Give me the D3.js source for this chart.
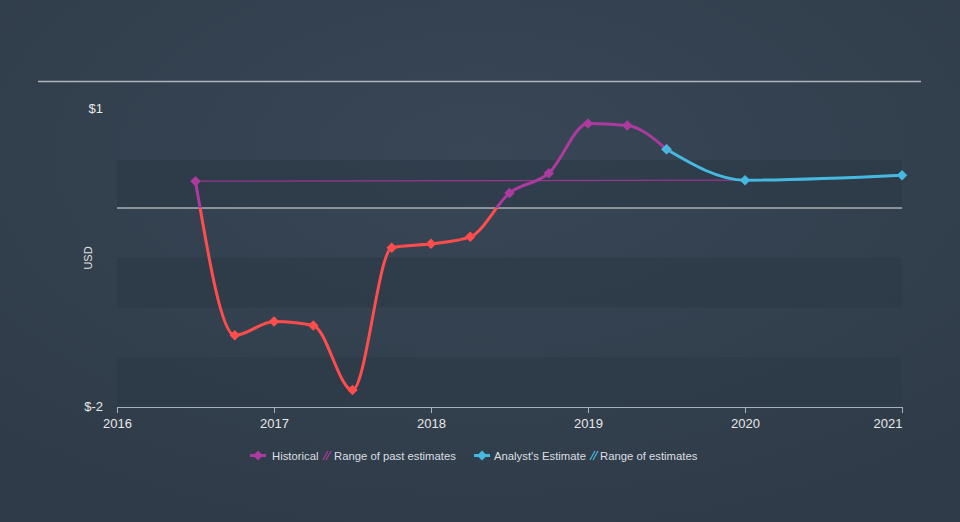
<!DOCTYPE html>
<html><head><meta charset="utf-8">
<script src="https://cdn.jsdelivr.net/npm/d3@7"></script>
<style>
html,body{margin:0;padding:0;background:#354250;}
svg{display:block;font-family:"Liberation Sans",Arial,sans-serif;}
</style></head>
<body>
<svg id="chart" width="960" height="522"></svg>
<script>
// ---- data ----
const histDates = [2016.5, 2016.75, 2017.0, 2017.25, 2017.5, 2017.75, 2018.0, 2018.25, 2018.5, 2018.75, 2019.0, 2019.25, 2019.5];
const histValues = [0.27, -1.28, -1.14, -1.18, -1.83, -0.40, -0.36, -0.29, 0.15, 0.35, 0.85, 0.83, 0.59];
const estDates = [2019.5, 2020.0, 2021.0];
const estValues = [0.59, 0.28, 0.33];
const pastRangeDates = [2016.5, 2020.0];
const pastRangeValues = [0.27, 0.28];
const xTicks = [2016, 2017, 2018, 2019, 2020, 2021];
const yTickValues = [1, -2];
const yTickLabels = ["$1", "$-2"];
const bandRanges = [[0.48, 0], [-0.5, -1], [-1.5, -2]];

const svg = d3.select("#chart");
const W = 960, H = 522;
const M = {left:117, right:902, top:108.5, bottom:407};

const x = d3.scaleLinear().domain([2016, 2021]).range([M.left, M.right]);
const y = d3.scaleLinear().domain([-2, 1]).range([M.bottom, M.top]);

// background gradient
const defs = svg.append("defs");
const bg = defs.append("radialGradient").attr("id","bg").attr("cx","50%").attr("cy","30%").attr("r","75%");
bg.append("stop").attr("offset","0%").attr("stop-color","#384656");
bg.append("stop").attr("offset","100%").attr("stop-color","#2f3b48");
svg.append("rect").attr("width",W).attr("height",H).attr("fill","url(#bg)");

// top rule
svg.append("line").attr("x1",38).attr("x2",921).attr("y1",81.5).attr("y2",81.5)
  .attr("stroke","#aeb4bb").attr("stroke-width",1.5);

// bands
svg.append("g").selectAll("rect").data(bandRanges).join("rect")
  .attr("x", x(2016)).attr("width", x(2021)-x(2016))
  .attr("y", d=>y(d[0])).attr("height", d=>y(d[1])-y(d[0]))
  .attr("fill","#2c3846").attr("opacity",0.6);

// zero line
svg.append("line").attr("x1",x(2016)).attr("x2",x(2021)).attr("y1",y(0)).attr("y2",y(0))
  .attr("stroke","#e6e6e6").attr("stroke-width",1.2);

// x axis
const xAxis = svg.append("g").attr("transform",`translate(0,${M.bottom})`)
  .call(d3.axisBottom(x).tickValues(xTicks).tickFormat(d3.format("d")).tickSize(6).tickSizeOuter(0));
xAxis.select(".domain").attr("stroke","#a7b1bc").attr("stroke-width",1.2);
xAxis.selectAll(".tick line").attr("stroke","#a7b1bc");
xAxis.selectAll(".tick text").attr("fill","#e8e8e8").attr("font-size",13).attr("dy","0.95em")
  .attr("text-anchor", d=> d===2021 ? "end" : "middle");

// y labels
svg.append("g").selectAll("text").data(yTickValues).join("text")
  .attr("x",103).attr("y",d=>y(d)+4).attr("text-anchor","end")
  .attr("fill","#e8e8e8").attr("font-size",13).text((d,i)=>yTickLabels[i]);

svg.append("text").attr("transform",`translate(92,258) rotate(-90)`).attr("text-anchor","middle")
  .attr("fill","#e0e0e0").attr("font-size",11).text("USD");

// past estimates range line
const lineGen = d3.line().x(d=>x(d[0])).y(d=>y(d[1]));
svg.append("path").datum(d3.zip(pastRangeDates, pastRangeValues))
  .attr("d", lineGen).attr("fill","none").attr("stroke","#a8379a").attr("stroke-width",1.3).attr("opacity",0.85);

// clips
defs.append("clipPath").attr("id","above").append("rect").attr("x",0).attr("y",0).attr("width",W).attr("height",y(0));
defs.append("clipPath").attr("id","below").append("rect").attr("x",0).attr("y",y(0)).attr("width",W).attr("height",H-y(0));

const curve = d3.line().x(d=>x(d[0])).y(d=>y(d[1])).curve(d3.curveMonotoneX);
const hist = d3.zip(histDates, histValues);
const est = d3.zip(estDates, estValues);
const PURPLE = "#ad3a9f", RED = "#ff4d4d", BLUE = "#45b9e0";

svg.append("path").datum(hist).attr("d",curve).attr("fill","none").attr("stroke",PURPLE)
  .attr("stroke-width",3).attr("clip-path","url(#above)");
svg.append("path").datum(hist).attr("d",curve).attr("fill","none").attr("stroke",RED)
  .attr("stroke-width",3).attr("clip-path","url(#below)");
svg.append("path").datum(est).attr("d",curve).attr("fill","none").attr("stroke",BLUE)
  .attr("stroke-width",3);

svg.append("g").selectAll("path").data(hist).join("path")
  .attr("d", d3.symbol().type(d3.symbolSquare).size(55)).attr("transform",d=>`translate(${x(d[0])},${y(d[1])}) rotate(45)`)
  .attr("fill",d=>d[1]>=0?PURPLE:RED);
svg.append("g").selectAll("path").data(est).join("path")
  .attr("d", d3.symbol().type(d3.symbolSquare).size(55)).attr("transform",d=>`translate(${x(d[0])},${y(d[1])}) rotate(45)`)
  .attr("fill",BLUE);

// legend
const lg = svg.append("g").attr("font-size",11.3).attr("fill","#dcdfe3");
function legMarker(cx, color){
  lg.append("line").attr("x1",cx-8).attr("x2",cx+8).attr("y1",455.5).attr("y2",455.5).attr("stroke",color).attr("stroke-width",3);
  lg.append("path").attr("d", d3.symbol().type(d3.symbolSquare).size(50)).attr("transform",`translate(${cx},455.5) rotate(45)`).attr("fill",color);
}
function hatch(x0, color){
  for (let i=0;i<2;i++){
    lg.append("line").attr("x1",x0+i*3).attr("y1",460).attr("x2",x0+i*3+5).attr("y2",451).attr("stroke",color).attr("stroke-width",1.2);
  }
}
legMarker(258, PURPLE);
lg.append("text").attr("x",272).attr("y",459.5).text("Historical");
hatch(323, PURPLE);
lg.append("text").attr("x",334).attr("y",459.5).text("Range of past estimates");
legMarker(482, BLUE);
lg.append("text").attr("x",494).attr("y",459.5).text("Analyst's Estimate");
hatch(590, BLUE);
lg.append("text").attr("x",600).attr("y",459.5).text("Range of estimates");
</script>
</body></html>
